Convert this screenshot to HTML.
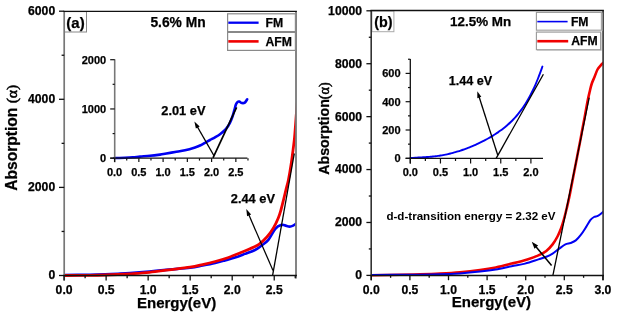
<!DOCTYPE html>
<html><head><meta charset="utf-8"><style>
html,body{margin:0;padding:0;background:#fff;}
svg{display:block;will-change:transform;}
text{font-family:"Liberation Sans",sans-serif;font-weight:bold;fill:#000;stroke:#000;stroke-width:0.25px;}
.thin{stroke-width:0;}
.sym{font-family:"Liberation Serif",serif;font-weight:normal;stroke-width:0.55px;}
</style></head><body>
<svg width="618" height="317" viewBox="0 0 618 317">
<rect x="0" y="0" width="618" height="317" fill="#fff"/>
<clipPath id="ca"><rect x="64.2" y="11.4" width="231.8" height="267.1"/></clipPath>
<g clip-path="url(#ca)" fill="none" stroke-linejoin="round" stroke-linecap="round">
<path d="M64.00,275.00 C68.33,274.97 83.17,274.90 90.00,274.80 C96.83,274.70 100.33,274.57 105.00,274.40 C109.67,274.23 113.83,274.02 118.00,273.80 C122.17,273.58 124.77,273.48 130.00,273.10 C135.23,272.72 142.93,272.08 149.40,271.50 C155.87,270.92 162.03,270.22 168.80,269.60 C175.57,268.98 184.37,268.48 190.00,267.80 C195.63,267.12 198.40,266.32 202.60,265.50 C206.80,264.68 211.47,263.75 215.20,262.90 C218.93,262.05 221.70,261.28 225.00,260.40 C228.30,259.52 231.67,258.68 235.00,257.60 C238.33,256.52 241.67,255.17 245.00,253.90 C248.33,252.63 252.33,251.32 255.00,250.00 C257.67,248.68 258.77,247.70 261.00,246.00 C263.23,244.30 265.98,242.70 268.40,239.80 C270.82,236.90 273.37,231.07 275.50,228.60 C277.63,226.13 279.63,225.53 281.20,225.00 C282.77,224.47 283.48,225.13 284.90,225.40 C286.32,225.67 288.27,226.60 289.70,226.60 C291.13,226.60 292.37,225.93 293.50,225.40 C294.63,224.87 296.00,223.73 296.50,223.40" stroke="#0000f2" stroke-width="2.6"/>
<path d="M64.00,275.50 C68.33,275.47 83.17,275.38 90.00,275.30 C96.83,275.22 100.33,275.13 105.00,275.00 C109.67,274.87 113.83,274.70 118.00,274.50 C122.17,274.30 124.77,274.17 130.00,273.80 C135.23,273.43 142.93,272.95 149.40,272.30 C155.87,271.65 162.03,270.75 168.80,269.90 C175.57,269.05 184.37,268.08 190.00,267.20 C195.63,266.32 198.40,265.55 202.60,264.60 C206.80,263.65 211.00,262.65 215.20,261.50 C219.40,260.35 223.60,259.15 227.80,257.70 C232.00,256.25 236.70,254.28 240.40,252.80 C244.10,251.32 246.92,250.22 250.00,248.80 C253.08,247.38 256.08,246.27 258.90,244.30 C261.72,242.33 264.45,239.78 266.90,237.00 C269.35,234.22 271.70,230.77 273.60,227.60 C275.50,224.43 277.03,221.10 278.30,218.00 C279.57,214.90 280.32,212.08 281.20,209.00 C282.08,205.92 282.80,202.75 283.60,199.50 C284.40,196.25 285.20,192.75 286.00,189.50 C286.80,186.25 287.57,184.08 288.40,180.00 C289.23,175.92 290.18,170.33 291.00,165.00 C291.82,159.67 292.72,152.50 293.30,148.00 C293.88,143.50 294.12,142.00 294.50,138.00 C294.88,134.00 295.27,128.33 295.60,124.00 C295.93,119.67 296.18,116.00 296.50,112.00 C296.82,108.00 297.33,102.00 297.50,100.00" stroke="#f00000" stroke-width="2.8"/>
</g>
<line x1="272.60" y1="275.40" x2="294.30" y2="153.50" stroke="#000" stroke-width="1.30"/>
<line x1="273.00" y1="270.60" x2="247.97" y2="212.85" stroke="#000" stroke-width="1.25"/><polygon points="246.30,209.00 251.10,214.55 247.07,216.30" fill="#000"/>
<rect x="64.5" y="11.6" width="22" height="20.4" fill="none" stroke="#888" stroke-width="1"/>
<line x1="64.20" y1="11.40" x2="64.20" y2="280.60" stroke="#777" stroke-width="1.70"/>
<line x1="296.00" y1="11.40" x2="296.00" y2="278.40" stroke="#777" stroke-width="1.80"/>
<line x1="63.40" y1="11.40" x2="296.90" y2="11.40" stroke="#111" stroke-width="1.30"/>
<line x1="63.40" y1="275.50" x2="296.90" y2="275.50" stroke="#111" stroke-width="1.40"/>
<line x1="64.10" y1="275.50" x2="64.10" y2="280.60" stroke="#111" stroke-width="1.30"/>
<line x1="106.12" y1="275.50" x2="106.12" y2="280.60" stroke="#111" stroke-width="1.30"/>
<line x1="148.15" y1="275.50" x2="148.15" y2="280.60" stroke="#111" stroke-width="1.30"/>
<line x1="190.17" y1="275.50" x2="190.17" y2="280.60" stroke="#111" stroke-width="1.30"/>
<line x1="232.20" y1="275.50" x2="232.20" y2="280.60" stroke="#111" stroke-width="1.30"/>
<line x1="274.23" y1="275.50" x2="274.23" y2="280.60" stroke="#111" stroke-width="1.30"/>
<line x1="85.11" y1="275.50" x2="85.11" y2="278.20" stroke="#111" stroke-width="1.30"/>
<line x1="127.14" y1="275.50" x2="127.14" y2="278.20" stroke="#111" stroke-width="1.30"/>
<line x1="169.16" y1="275.50" x2="169.16" y2="278.20" stroke="#111" stroke-width="1.30"/>
<line x1="211.19" y1="275.50" x2="211.19" y2="278.20" stroke="#111" stroke-width="1.30"/>
<line x1="253.21" y1="275.50" x2="253.21" y2="278.20" stroke="#111" stroke-width="1.30"/>
<line x1="295.24" y1="275.50" x2="295.24" y2="278.20" stroke="#111" stroke-width="1.30"/>
<line x1="59.00" y1="275.50" x2="64.20" y2="275.50" stroke="#111" stroke-width="1.30"/>
<line x1="59.00" y1="187.40" x2="64.20" y2="187.40" stroke="#111" stroke-width="1.30"/>
<line x1="59.00" y1="99.30" x2="64.20" y2="99.30" stroke="#111" stroke-width="1.30"/>
<line x1="59.00" y1="11.20" x2="64.20" y2="11.20" stroke="#111" stroke-width="1.30"/>
<line x1="61.60" y1="231.45" x2="64.20" y2="231.45" stroke="#111" stroke-width="1.30"/>
<line x1="61.60" y1="143.35" x2="64.20" y2="143.35" stroke="#111" stroke-width="1.30"/>
<line x1="61.60" y1="55.25" x2="64.20" y2="55.25" stroke="#111" stroke-width="1.30"/>
<text x="55.20" y="279.40" font-size="12.20" text-anchor="end">0</text>
<text x="55.20" y="191.30" font-size="12.20" text-anchor="end">2000</text>
<text x="55.20" y="103.20" font-size="12.20" text-anchor="end">4000</text>
<text x="55.20" y="15.10" font-size="12.20" text-anchor="end">6000</text>
<text x="64.10" y="294.00" font-size="12.20" text-anchor="middle">0.0</text>
<text x="106.12" y="294.00" font-size="12.20" text-anchor="middle">0.5</text>
<text x="148.15" y="294.00" font-size="12.20" text-anchor="middle">1.0</text>
<text x="190.17" y="294.00" font-size="12.20" text-anchor="middle">1.5</text>
<text x="232.20" y="294.00" font-size="12.20" text-anchor="middle">2.0</text>
<text x="274.23" y="294.00" font-size="12.20" text-anchor="middle">2.5</text>
<text x="176.60" y="307.90" font-size="15.00" text-anchor="middle">Energy(eV)</text>
<text x="16.80" y="137.80" font-size="15.60" text-anchor="middle" transform="rotate(-90 16.8 137.8)">Absorption <tspan class="sym">(&#945;)</tspan></text>
<text x="75.50" y="28.00" font-size="15.00" text-anchor="middle">(a)</text>
<text x="150.40" y="27.00" font-size="13.80" text-anchor="start">5.6% Mn</text>
<rect x="227.6" y="13.8" width="67.8" height="36.6" fill="#fff" stroke="#8a8a8a" stroke-width="1.2"/>
<line x1="227.60" y1="32.00" x2="295.30" y2="32.00" stroke="#888" stroke-width="1.80"/>
<line x1="228.30" y1="22.70" x2="258.60" y2="22.70" stroke="#0000f2" stroke-width="2.30"/>
<line x1="228.30" y1="41.40" x2="258.60" y2="41.40" stroke="#f00000" stroke-width="2.60"/>
<text x="265.50" y="27.20" font-size="12.20" text-anchor="start">FM</text>
<text x="265.50" y="45.90" font-size="12.20" text-anchor="start">AFM</text>
<path d="M114.50,158.00 C116.25,157.95 121.97,157.82 125.00,157.70 C128.03,157.58 130.20,157.48 132.70,157.30 C135.20,157.12 137.12,156.85 140.00,156.60 C142.88,156.35 146.67,156.13 150.00,155.80 C153.33,155.47 157.50,154.93 160.00,154.60 C162.50,154.27 162.50,154.23 165.00,153.80 C167.50,153.37 171.67,152.60 175.00,152.00 C178.33,151.40 181.67,150.97 185.00,150.20 C188.33,149.43 192.50,148.18 195.00,147.40 C197.50,146.62 198.33,146.27 200.00,145.50 C201.67,144.73 203.33,143.72 205.00,142.80 C206.67,141.88 208.33,140.92 210.00,140.00 C211.67,139.08 213.33,138.27 215.00,137.30 C216.67,136.33 218.33,135.42 220.00,134.20 C221.67,132.98 223.67,131.33 225.00,130.00 C226.33,128.67 227.17,127.42 228.00,126.20 C228.83,124.98 229.25,124.32 230.00,122.70 C230.75,121.08 231.75,118.70 232.50,116.50 C233.25,114.30 233.92,111.53 234.50,109.50 C235.08,107.47 235.48,105.57 236.00,104.30 C236.52,103.03 237.05,102.35 237.60,101.90 C238.15,101.45 238.58,101.42 239.30,101.60 C240.02,101.78 240.98,102.83 241.90,103.00 C242.82,103.17 243.92,103.22 244.80,102.60 C245.68,101.98 246.80,99.85 247.20,99.30" fill="none" stroke="#0000f2" stroke-width="2.6" stroke-linecap="round" stroke-linejoin="round"/>
<line x1="213.00" y1="157.90" x2="236.60" y2="107.30" stroke="#000" stroke-width="1.70"/>
<line x1="213.90" y1="155.60" x2="196.43" y2="125.14" stroke="#000" stroke-width="1.20"/><polygon points="194.40,121.60 199.69,126.40 195.87,128.59" fill="#000"/>
<line x1="114.70" y1="59.30" x2="114.70" y2="162.30" stroke="#777" stroke-width="1.60"/>
<line x1="110.20" y1="158.20" x2="247.40" y2="158.20" stroke="#111" stroke-width="1.30"/>
<line x1="114.60" y1="158.20" x2="114.60" y2="162.00" stroke="#111" stroke-width="1.20"/>
<line x1="138.85" y1="158.20" x2="138.85" y2="162.00" stroke="#111" stroke-width="1.20"/>
<line x1="163.10" y1="158.20" x2="163.10" y2="162.00" stroke="#111" stroke-width="1.20"/>
<line x1="187.35" y1="158.20" x2="187.35" y2="162.00" stroke="#111" stroke-width="1.20"/>
<line x1="211.60" y1="158.20" x2="211.60" y2="162.00" stroke="#111" stroke-width="1.20"/>
<line x1="235.85" y1="158.20" x2="235.85" y2="162.00" stroke="#111" stroke-width="1.20"/>
<line x1="126.72" y1="158.20" x2="126.72" y2="160.60" stroke="#111" stroke-width="1.20"/>
<line x1="150.97" y1="158.20" x2="150.97" y2="160.60" stroke="#111" stroke-width="1.20"/>
<line x1="175.22" y1="158.20" x2="175.22" y2="160.60" stroke="#111" stroke-width="1.20"/>
<line x1="199.47" y1="158.20" x2="199.47" y2="160.60" stroke="#111" stroke-width="1.20"/>
<line x1="223.72" y1="158.20" x2="223.72" y2="160.60" stroke="#111" stroke-width="1.20"/>
<line x1="247.97" y1="158.20" x2="247.97" y2="160.60" stroke="#111" stroke-width="1.20"/>
<line x1="110.20" y1="158.20" x2="114.70" y2="158.20" stroke="#111" stroke-width="1.20"/>
<line x1="110.20" y1="108.95" x2="114.70" y2="108.95" stroke="#111" stroke-width="1.20"/>
<line x1="110.20" y1="59.70" x2="114.70" y2="59.70" stroke="#111" stroke-width="1.20"/>
<line x1="112.60" y1="133.57" x2="114.70" y2="133.57" stroke="#111" stroke-width="1.20"/>
<line x1="112.60" y1="84.32" x2="114.70" y2="84.32" stroke="#111" stroke-width="1.20"/>
<text x="106.20" y="162.00" font-size="11.00" text-anchor="end">0</text>
<text x="106.20" y="112.75" font-size="11.00" text-anchor="end">1000</text>
<text x="106.20" y="63.50" font-size="11.00" text-anchor="end">2000</text>
<text x="114.60" y="175.60" font-size="11.00" text-anchor="middle">0.0</text>
<text x="138.85" y="175.60" font-size="11.00" text-anchor="middle">0.5</text>
<text x="163.10" y="175.60" font-size="11.00" text-anchor="middle">1.0</text>
<text x="187.35" y="175.60" font-size="11.00" text-anchor="middle">1.5</text>
<text x="211.60" y="175.60" font-size="11.00" text-anchor="middle">2.0</text>
<text x="235.85" y="175.60" font-size="11.00" text-anchor="middle">2.5</text>
<text x="161.30" y="114.90" font-size="12.80" text-anchor="start">2.01 eV</text>
<text x="230.80" y="203.40" font-size="12.80" text-anchor="start">2.44 eV</text>
<clipPath id="cb"><rect x="371.2" y="10.5" width="231.9" height="268.0"/></clipPath>
<g clip-path="url(#cb)" fill="none" stroke-linejoin="round" stroke-linecap="round">
<path d="M371.00,275.20 C375.83,275.13 391.83,274.95 400.00,274.80 C408.17,274.65 413.33,274.52 420.00,274.30 C426.67,274.08 433.33,273.85 440.00,273.50 C446.67,273.15 453.33,272.78 460.00,272.20 C466.67,271.62 474.03,270.80 480.00,270.00 C485.97,269.20 490.53,268.47 495.80,267.40 C501.07,266.33 506.35,264.93 511.60,263.60 C516.85,262.27 522.83,260.77 527.30,259.40 C531.77,258.03 535.23,256.80 538.40,255.40 C541.57,254.00 543.93,252.83 546.30,251.00 C548.67,249.17 550.73,246.82 552.60,244.40 C554.47,241.98 556.10,239.15 557.50,236.50 C558.90,233.85 559.92,231.42 561.00,228.50 C562.08,225.58 563.03,222.42 564.00,219.00 C564.97,215.58 565.92,211.67 566.80,208.00 C567.68,204.33 568.30,201.83 569.30,197.00 C570.30,192.17 571.57,185.33 572.80,179.00 C574.03,172.67 575.47,165.33 576.70,159.00 C577.93,152.67 579.28,145.83 580.20,141.00 C581.12,136.17 581.45,134.00 582.20,130.00 C582.95,126.00 583.80,121.83 584.70,117.00 C585.60,112.17 586.78,105.17 587.60,101.00 C588.42,96.83 588.90,94.92 589.60,92.00 C590.30,89.08 590.98,86.00 591.80,83.50 C592.62,81.00 593.55,79.33 594.50,77.00 C595.45,74.67 596.42,71.50 597.50,69.50 C598.58,67.50 599.75,66.33 601.00,65.00 C602.25,63.67 604.33,62.08 605.00,61.50" stroke="#f00000" stroke-width="2.6"/>
<path d="M371.00,275.00 C377.50,274.95 398.50,274.82 410.00,274.70 C421.50,274.58 431.67,274.52 440.00,274.30 C448.33,274.08 453.33,273.85 460.00,273.40 C466.67,272.95 474.03,272.25 480.00,271.60 C485.97,270.95 490.53,270.40 495.80,269.50 C501.07,268.60 506.73,267.18 511.60,266.20 C516.47,265.22 520.53,264.73 525.00,263.60 C529.47,262.47 534.85,260.53 538.40,259.40 C541.95,258.27 543.93,257.77 546.30,256.80 C548.67,255.83 550.50,254.92 552.60,253.60 C554.70,252.28 556.77,250.43 558.90,248.90 C561.03,247.37 563.45,245.38 565.40,244.40 C567.35,243.42 568.87,243.67 570.60,243.00 C572.33,242.33 574.07,241.78 575.80,240.40 C577.53,239.02 579.27,236.95 581.00,234.70 C582.73,232.45 584.62,229.37 586.20,226.90 C587.78,224.43 589.20,221.55 590.50,219.90 C591.80,218.25 592.70,217.72 594.00,217.00 C595.30,216.28 596.72,216.52 598.30,215.60 C599.88,214.68 602.63,212.18 603.50,211.50" stroke="#0000f2" stroke-width="2.0"/>
</g>
<line x1="552.90" y1="275.40" x2="589.20" y2="97.70" stroke="#000" stroke-width="1.30"/>
<line x1="551.60" y1="265.40" x2="534.50" y2="245.02" stroke="#000" stroke-width="1.50"/><polygon points="531.80,241.80 538.14,245.62 534.46,248.71" fill="#000"/>
<rect x="371.9" y="11.1" width="22" height="20.6" fill="none" stroke="#aaa" stroke-width="1"/>
<line x1="371.20" y1="10.50" x2="371.20" y2="280.20" stroke="#333" stroke-width="1.60"/>
<line x1="603.10" y1="10.50" x2="603.10" y2="280.20" stroke="#333" stroke-width="1.60"/>
<line x1="370.40" y1="10.50" x2="603.90" y2="10.50" stroke="#111" stroke-width="1.30"/>
<line x1="370.40" y1="275.50" x2="603.90" y2="275.50" stroke="#111" stroke-width="1.40"/>
<line x1="371.30" y1="275.50" x2="371.30" y2="280.20" stroke="#111" stroke-width="1.30"/>
<line x1="409.90" y1="275.50" x2="409.90" y2="280.20" stroke="#111" stroke-width="1.30"/>
<line x1="448.50" y1="275.50" x2="448.50" y2="280.20" stroke="#111" stroke-width="1.30"/>
<line x1="487.10" y1="275.50" x2="487.10" y2="280.20" stroke="#111" stroke-width="1.30"/>
<line x1="525.70" y1="275.50" x2="525.70" y2="280.20" stroke="#111" stroke-width="1.30"/>
<line x1="564.30" y1="275.50" x2="564.30" y2="280.20" stroke="#111" stroke-width="1.30"/>
<line x1="602.90" y1="275.50" x2="602.90" y2="280.20" stroke="#111" stroke-width="1.30"/>
<line x1="390.60" y1="275.50" x2="390.60" y2="277.80" stroke="#111" stroke-width="1.30"/>
<line x1="429.20" y1="275.50" x2="429.20" y2="277.80" stroke="#111" stroke-width="1.30"/>
<line x1="467.80" y1="275.50" x2="467.80" y2="277.80" stroke="#111" stroke-width="1.30"/>
<line x1="506.40" y1="275.50" x2="506.40" y2="277.80" stroke="#111" stroke-width="1.30"/>
<line x1="545.00" y1="275.50" x2="545.00" y2="277.80" stroke="#111" stroke-width="1.30"/>
<line x1="583.60" y1="275.50" x2="583.60" y2="277.80" stroke="#111" stroke-width="1.30"/>
<line x1="366.40" y1="275.40" x2="371.20" y2="275.40" stroke="#111" stroke-width="1.30"/>
<line x1="366.40" y1="222.48" x2="371.20" y2="222.48" stroke="#111" stroke-width="1.30"/>
<line x1="366.40" y1="169.56" x2="371.20" y2="169.56" stroke="#111" stroke-width="1.30"/>
<line x1="366.40" y1="116.64" x2="371.20" y2="116.64" stroke="#111" stroke-width="1.30"/>
<line x1="366.40" y1="63.72" x2="371.20" y2="63.72" stroke="#111" stroke-width="1.30"/>
<line x1="366.40" y1="10.80" x2="371.20" y2="10.80" stroke="#111" stroke-width="1.30"/>
<line x1="368.80" y1="248.94" x2="371.20" y2="248.94" stroke="#111" stroke-width="1.30"/>
<line x1="368.80" y1="196.02" x2="371.20" y2="196.02" stroke="#111" stroke-width="1.30"/>
<line x1="368.80" y1="143.10" x2="371.20" y2="143.10" stroke="#111" stroke-width="1.30"/>
<line x1="368.80" y1="90.18" x2="371.20" y2="90.18" stroke="#111" stroke-width="1.30"/>
<line x1="368.80" y1="37.26" x2="371.20" y2="37.26" stroke="#111" stroke-width="1.30"/>
<text x="362.00" y="279.30" font-size="12.20" text-anchor="end">0</text>
<text x="362.00" y="226.38" font-size="12.20" text-anchor="end">2000</text>
<text x="362.00" y="173.46" font-size="12.20" text-anchor="end">4000</text>
<text x="362.00" y="120.54" font-size="12.20" text-anchor="end">6000</text>
<text x="362.00" y="67.62" font-size="12.20" text-anchor="end">8000</text>
<text x="362.00" y="14.70" font-size="12.20" text-anchor="end">10000</text>
<text x="371.30" y="294.30" font-size="12.20" text-anchor="middle">0.0</text>
<text x="409.90" y="294.30" font-size="12.20" text-anchor="middle">0.5</text>
<text x="448.50" y="294.30" font-size="12.20" text-anchor="middle">1.0</text>
<text x="487.10" y="294.30" font-size="12.20" text-anchor="middle">1.5</text>
<text x="525.70" y="294.30" font-size="12.20" text-anchor="middle">2.0</text>
<text x="564.30" y="294.30" font-size="12.20" text-anchor="middle">2.5</text>
<text x="602.90" y="294.30" font-size="12.20" text-anchor="middle">3.0</text>
<text x="491.40" y="307.30" font-size="15.00" text-anchor="middle">Energy(eV)</text>
<text x="328.80" y="128.50" font-size="14.20" text-anchor="middle" transform="rotate(-90 328.8 128.5)">Absorption<tspan class="sym">(&#945;)</tspan></text>
<text x="383.40" y="27.00" font-size="14.30" text-anchor="middle">(b)</text>
<text x="450.10" y="25.70" font-size="13.40" text-anchor="start">12.5% Mn</text>
<rect x="536.4" y="12.4" width="65" height="17.8" fill="#fff" stroke="#999" stroke-width="1.1"/>
<rect x="536.4" y="32.1" width="64.2" height="17.6" fill="#fff" stroke="#999" stroke-width="1.1"/>
<line x1="537.00" y1="30.90" x2="602.00" y2="30.90" stroke="#bbb" stroke-width="0.80"/>
<line x1="602.10" y1="13.00" x2="602.10" y2="31.00" stroke="#bbb" stroke-width="0.80"/>
<line x1="537.00" y1="50.40" x2="601.20" y2="50.40" stroke="#bbb" stroke-width="0.80"/>
<line x1="601.30" y1="32.50" x2="601.30" y2="50.60" stroke="#bbb" stroke-width="0.80"/>
<line x1="537.30" y1="21.60" x2="567.60" y2="21.60" stroke="#0000f2" stroke-width="1.60"/>
<line x1="537.30" y1="41.20" x2="568.20" y2="41.20" stroke="#f00000" stroke-width="2.60"/>
<text x="570.90" y="25.70" font-size="12.20" text-anchor="start">FM</text>
<text x="571.20" y="44.60" font-size="12.20" text-anchor="start">AFM</text>
<path d="M410.50,158.07 C410.92,158.03 412.17,157.92 413.00,157.86 C413.83,157.79 414.67,157.74 415.50,157.69 C416.33,157.63 417.17,157.59 418.00,157.54 C418.83,157.50 419.67,157.45 420.50,157.41 C421.33,157.36 422.17,157.32 423.00,157.27 C423.83,157.23 424.67,157.18 425.50,157.13 C426.33,157.07 427.17,157.02 428.00,156.96 C428.83,156.90 429.67,156.83 430.50,156.76 C431.33,156.68 432.17,156.61 433.00,156.52 C433.83,156.43 434.67,156.34 435.50,156.24 C436.33,156.14 437.17,156.03 438.00,155.92 C438.83,155.80 439.67,155.68 440.50,155.54 C441.33,155.41 442.17,155.27 443.00,155.11 C443.83,154.96 444.67,154.80 445.50,154.63 C446.33,154.46 447.17,154.29 448.00,154.10 C448.83,153.91 449.67,153.71 450.50,153.51 C451.33,153.30 452.17,153.09 453.00,152.86 C453.83,152.64 454.67,152.41 455.50,152.17 C456.33,151.93 457.17,151.68 458.00,151.42 C458.83,151.16 459.67,150.89 460.50,150.61 C461.33,150.34 462.17,150.05 463.00,149.76 C463.83,149.47 464.67,149.17 465.50,148.86 C466.33,148.55 467.17,148.23 468.00,147.91 C468.83,147.58 469.67,147.25 470.50,146.91 C471.33,146.57 472.17,146.22 473.00,145.86 C473.83,145.51 474.67,145.14 475.50,144.77 C476.33,144.40 477.17,144.02 478.00,143.63 C478.83,143.24 479.67,142.84 480.50,142.44 C481.33,142.03 482.17,141.61 483.00,141.19 C483.83,140.77 484.67,140.33 485.50,139.89 C486.33,139.45 487.17,138.99 488.00,138.53 C488.83,138.06 489.67,137.59 490.50,137.10 C491.33,136.62 492.17,136.12 493.00,135.61 C493.83,135.09 494.67,134.57 495.50,134.03 C496.33,133.49 497.17,132.93 498.00,132.36 C498.83,131.79 499.67,131.20 500.50,130.59 C501.33,129.99 502.17,129.36 503.00,128.71 C503.83,128.07 504.67,127.40 505.50,126.71 C506.33,126.01 507.17,125.30 508.00,124.55 C508.83,123.81 509.67,123.04 510.50,122.24 C511.33,121.44 512.17,120.61 513.00,119.74 C513.83,118.88 514.67,117.98 515.50,117.04 C516.33,116.10 517.17,115.13 518.00,114.11 C518.83,113.09 519.67,112.03 520.50,110.92 C521.33,109.81 522.17,108.66 523.00,107.44 C523.83,106.23 524.67,104.97 525.50,103.65 C526.33,102.32 527.17,100.94 528.00,99.49 C528.83,98.04 529.67,96.54 530.50,94.95 C531.33,93.36 532.17,91.71 533.00,89.97 C533.83,88.23 534.67,86.41 535.50,84.51 C536.33,82.60 537.17,80.61 538.00,78.52 C538.83,76.42 539.77,73.95 540.50,71.95 C541.23,69.96 542.08,67.44 542.40,66.54" fill="none" stroke="#0000f2" stroke-width="1.9" stroke-linecap="round" stroke-linejoin="round"/>
<line x1="496.00" y1="158.60" x2="543.40" y2="74.20" stroke="#000" stroke-width="1.30"/>
<line x1="497.70" y1="155.00" x2="478.51" y2="94.97" stroke="#000" stroke-width="1.30"/><polygon points="477.30,91.20 481.31,96.85 477.31,98.13" fill="#000"/>
<line x1="410.30" y1="59.10" x2="410.30" y2="163.50" stroke="#111" stroke-width="1.30"/>
<line x1="405.60" y1="158.30" x2="543.00" y2="158.30" stroke="#111" stroke-width="1.30"/>
<line x1="410.30" y1="158.30" x2="410.30" y2="163.50" stroke="#111" stroke-width="1.20"/>
<line x1="440.45" y1="158.30" x2="440.45" y2="163.50" stroke="#111" stroke-width="1.20"/>
<line x1="470.60" y1="158.30" x2="470.60" y2="163.50" stroke="#111" stroke-width="1.20"/>
<line x1="500.75" y1="158.30" x2="500.75" y2="163.50" stroke="#111" stroke-width="1.20"/>
<line x1="530.90" y1="158.30" x2="530.90" y2="163.50" stroke="#111" stroke-width="1.20"/>
<line x1="425.38" y1="158.30" x2="425.38" y2="161.00" stroke="#111" stroke-width="1.20"/>
<line x1="455.52" y1="158.30" x2="455.52" y2="161.00" stroke="#111" stroke-width="1.20"/>
<line x1="485.68" y1="158.30" x2="485.68" y2="161.00" stroke="#111" stroke-width="1.20"/>
<line x1="515.83" y1="158.30" x2="515.83" y2="161.00" stroke="#111" stroke-width="1.20"/>
<line x1="405.60" y1="158.30" x2="410.30" y2="158.30" stroke="#111" stroke-width="1.20"/>
<line x1="405.60" y1="130.00" x2="410.30" y2="130.00" stroke="#111" stroke-width="1.20"/>
<line x1="405.60" y1="101.70" x2="410.30" y2="101.70" stroke="#111" stroke-width="1.20"/>
<line x1="405.60" y1="73.40" x2="410.30" y2="73.40" stroke="#111" stroke-width="1.20"/>
<line x1="408.00" y1="144.15" x2="410.30" y2="144.15" stroke="#111" stroke-width="1.20"/>
<line x1="408.00" y1="115.85" x2="410.30" y2="115.85" stroke="#111" stroke-width="1.20"/>
<line x1="408.00" y1="87.55" x2="410.30" y2="87.55" stroke="#111" stroke-width="1.20"/>
<line x1="408.00" y1="59.25" x2="410.30" y2="59.25" stroke="#111" stroke-width="1.20"/>
<text x="400.60" y="162.10" font-size="11.00" text-anchor="end">0</text>
<text x="400.60" y="133.80" font-size="11.00" text-anchor="end">200</text>
<text x="400.60" y="105.50" font-size="11.00" text-anchor="end">400</text>
<text x="400.60" y="77.20" font-size="11.00" text-anchor="end">600</text>
<text x="410.30" y="175.80" font-size="11.00" text-anchor="middle">0.0</text>
<text x="440.45" y="175.80" font-size="11.00" text-anchor="middle">0.5</text>
<text x="470.60" y="175.80" font-size="11.00" text-anchor="middle">1.0</text>
<text x="500.75" y="175.80" font-size="11.00" text-anchor="middle">1.5</text>
<text x="530.90" y="175.80" font-size="11.00" text-anchor="middle">2.0</text>
<text x="448.80" y="85.20" font-size="12.60" text-anchor="start">1.44 eV</text>
<text x="386.40" y="220.40" font-size="11.60" text-anchor="start" class="thin">d-d-transition energy = 2.32 eV</text>
</svg>
</body></html>
